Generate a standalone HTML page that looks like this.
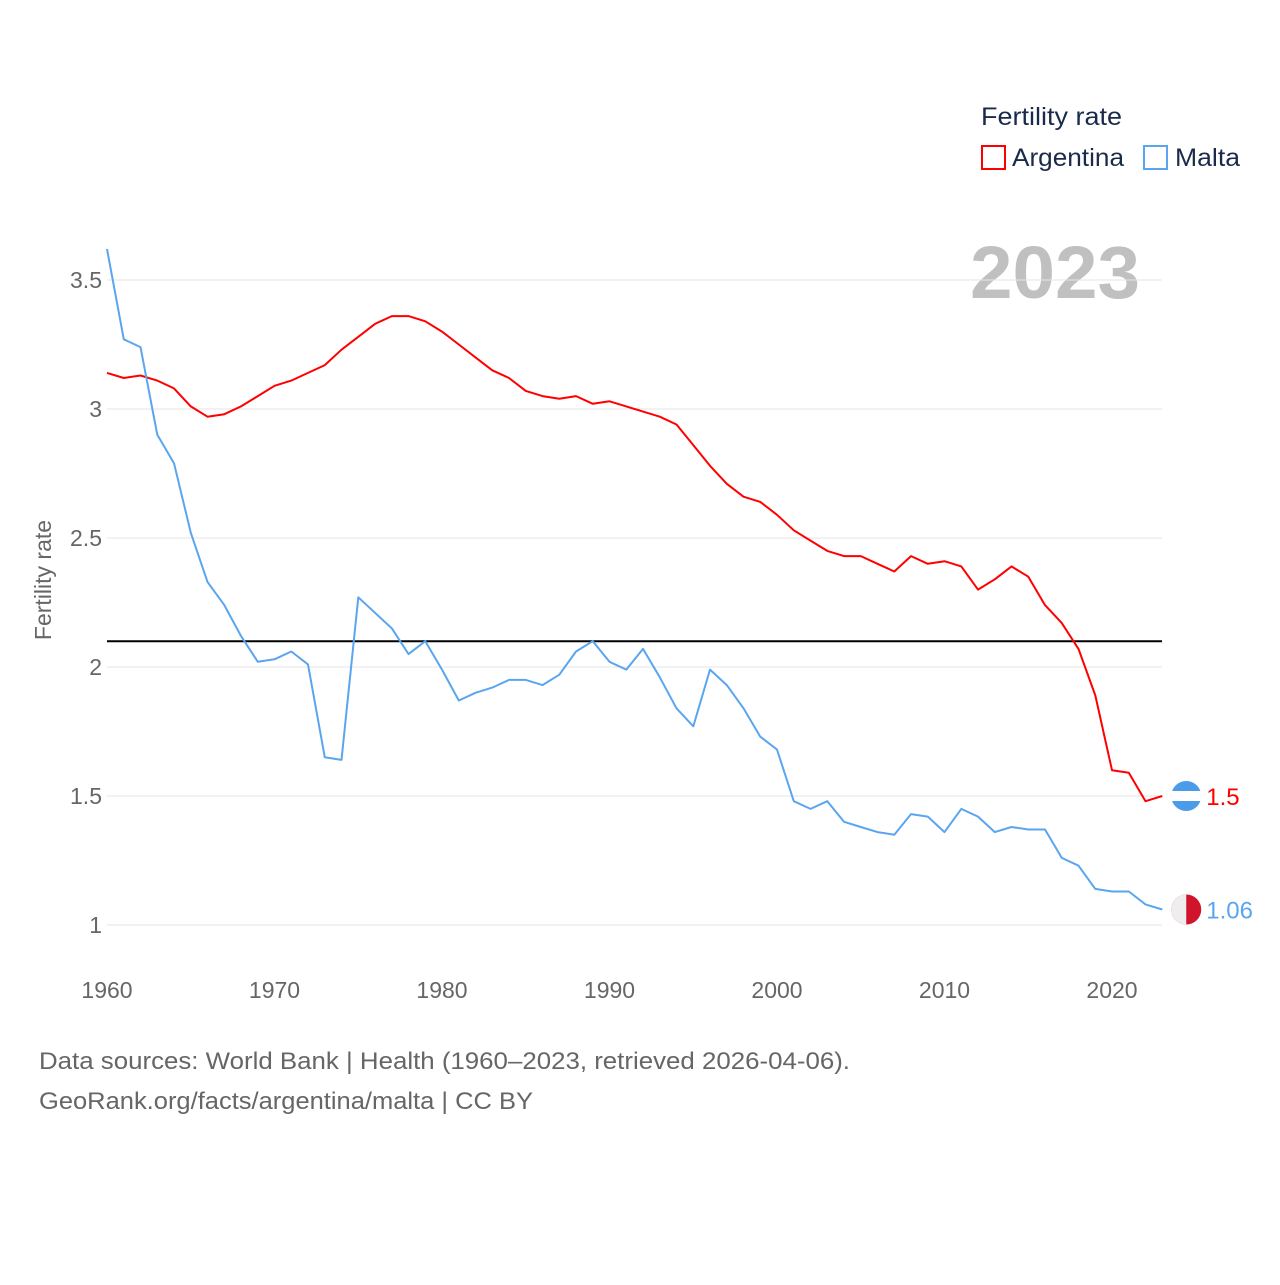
<!DOCTYPE html>
<html><head><meta charset="utf-8"><style>
html,body{margin:0;padding:0;background:#fff;}
body{width:1280px;height:1280px;overflow:hidden;font-family:"Liberation Sans",sans-serif;}
</style></head><body>
<svg id="chart" width="1280" height="1280" xmlns="http://www.w3.org/2000/svg">
<text x="981" y="125" font-size="25" fill="#1a2a4a" textLength="141" lengthAdjust="spacingAndGlyphs">Fertility rate</text>
<g>
<rect x="982" y="146" width="23" height="23" fill="none" stroke="#ff0000" stroke-width="2"/>
<text x="1012" y="166" font-size="25" fill="#1a2a4a" textLength="112" lengthAdjust="spacingAndGlyphs">Argentina</text></g>
<g>
<rect x="1144" y="146" width="23" height="23" fill="none" stroke="#5aa5ef" stroke-width="2"/>
<text x="1175" y="166" font-size="25" fill="#1a2a4a" textLength="65" lengthAdjust="spacingAndGlyphs">Malta</text></g>
<text x="970" y="298" font-size="74" font-weight="bold" fill="#c0c0c0" textLength="170" lengthAdjust="spacingAndGlyphs">2023</text>
<text transform="translate(51,580) rotate(-90)" font-size="23" fill="#666" text-anchor="middle">Fertility rate</text>
<g id="grid"></g><g id="yticks"></g><g id="xticks"></g><g id="series"></g>
<text x="39" y="1069" font-size="24" fill="#666" textLength="811" lengthAdjust="spacingAndGlyphs">Data sources: World Bank | Health (1960–2023, retrieved 2026-04-06).</text>
<text x="39" y="1109" font-size="24" fill="#666" textLength="494" lengthAdjust="spacingAndGlyphs">GeoRank.org/facts/argentina/malta | CC BY</text>
</svg>
<script>
const years=[];for(let y=1960;y<=2023;y++)years.push(y);
const argentina=[3.14,3.12,3.13,3.11,3.08,3.01,2.97,2.98,3.01,3.05,3.09,3.11,3.14,3.17,3.23,3.28,3.33,3.36,3.36,3.34,3.30,3.25,3.20,3.15,3.12,3.07,3.05,3.04,3.05,3.02,3.03,3.01,2.99,2.97,2.94,2.86,2.78,2.71,2.66,2.64,2.59,2.53,2.49,2.45,2.43,2.43,2.40,2.37,2.43,2.40,2.41,2.39,2.30,2.34,2.39,2.35,2.24,2.17,2.07,1.89,1.60,1.59,1.48,1.50];
const malta=[3.62,3.27,3.24,2.90,2.79,2.52,2.33,2.24,2.12,2.02,2.03,2.06,2.01,1.65,1.64,2.27,2.21,2.15,2.05,2.10,1.99,1.87,1.90,1.92,1.95,1.95,1.93,1.97,2.06,2.10,2.02,1.99,2.07,1.96,1.84,1.77,1.99,1.93,1.84,1.73,1.68,1.48,1.45,1.48,1.40,1.38,1.36,1.35,1.43,1.42,1.36,1.45,1.42,1.36,1.38,1.37,1.37,1.26,1.23,1.14,1.13,1.13,1.08,1.06];
const yTicks=[1,1.5,2,2.5,3,3.5];
const yTickLabels=["1","1.5","2","2.5","3","3.5"];
const xTicks=[1960,1970,1980,1990,2000,2010,2020];
const refValue=2.1;
const NS="http://www.w3.org/2000/svg";
const X=y=>107+(y-1960)*16.75;
const Y=v=>925-(v-1)*258;
function mk(tag,attrs,parent){const e=document.createElementNS(NS,tag);for(const k in attrs)e.setAttribute(k,attrs[k]);document.getElementById(parent).appendChild(e);return e;}
yTicks.forEach((v,i)=>{
 const l=mk('line',{x1:107,x2:1162,y1:Y(v),y2:Y(v),stroke:'#e6e6e6','stroke-width':1},'grid');
 
 
 const t=mk('text',{x:102,y:Y(v)+8,'font-size':23,fill:'#666','text-anchor':'end'},'yticks');
 t.textContent=yTickLabels[i];
 
 
});
xTicks.forEach(y=>{
 const t=mk('text',{x:X(y),y:998,'font-size':23,fill:'#666','text-anchor':'middle'},'xticks');
 t.textContent=y;
 
 
});
const ref=mk('line',{x1:107,x2:1162,y1:Y(refValue),y2:Y(refValue),stroke:'#000','stroke-width':2},'series');


function line(data,color,name){
 const p=mk('path',{d:data.map((v,i)=>(i?'L':'M')+X(years[i]).toFixed(1)+','+Y(v).toFixed(1)).join(''),fill:'none',stroke:color,'stroke-width':2,'stroke-linejoin':'round'},'series');
 
 
 const last=data[data.length-1],lx=X(years[years.length-1]),ly=Y(last);
 const c=mk('circle',{cx:lx+24,cy:ly,r:15,fill:color==='#ff0000'?'#4a9be8':'#cf142b'},'series');
 
 
 if(color==='#ff0000'){const m=mk('rect',{x:lx+9,y:ly-5,width:30,height:10,fill:'#fff'},'series');}
 else{const m=mk('path',{d:`M${lx+24},${ly-15}A15,15 0 0,0 ${lx+24},${ly+15}Z`,fill:'#eee'},'series');}
 const t=mk('text',{x:lx+44,y:ly+9,'font-size':24,fill:color},'series');
 t.textContent=String(last);
 
 
}
line(argentina,'#ff0000','argentina');
line(malta,'#5aa5ef','malta');
</script>
</body></html>
